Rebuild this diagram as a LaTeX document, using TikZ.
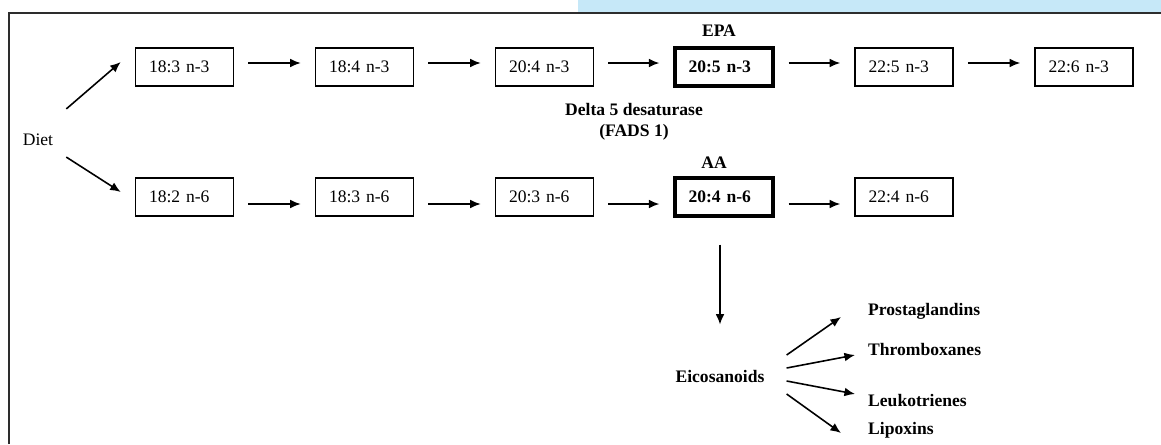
\documentclass[tikz,border=0pt]{standalone}
\usepackage{fontspec}
\setmainfont{Liberation Serif}
\usepackage{tikz}
\usetikzlibrary{positioning,calc,arrows.meta}
\definecolor{frameColor}{RGB}{45,45,45}
\definecolor{bannerColor}{RGB}{198,232,248}
\tikzstyle{diagram} = [x = .02cm, y = -.02cm, >={Latex[length=6pt,width=5pt]}]
\tikzstyle{acidBox} = [draw, line width = .9pt, minimum width = 1.96cm, minimum height = .76cm,
                       inner xsep = .27cm, inner ysep = 0pt, text width = 1.42cm, align = left]
\tikzstyle{keyBox} = [acidBox, line width = 1.8pt, font = \bfseries]
\tikzstyle{boldLabel} = [font = \bfseries]
\tikzstyle{frameLine} = [color = frameColor, line width = 1.2pt]
\tikzstyle{flowArrow} = [line width = .9pt, ->]
\tikzstyle{stepArrow} = [flowArrow, shorten < = .28cm, shorten > = .28cm]
\newcommand{\acid}[4]{\node [acidBox] (#1) at (#2, #3) {#4};}
\newcommand{\keyAcid}[4]{\node [keyBox] (#1) at (#2, #3) {#4};}

\begin{document}
\begin{tikzpicture}[diagram]
        \useasboundingbox (0,0) rectangle (1161,444);
        \fill [bannerColor] (578,0) rectangle (1161,12);
        \draw [frameLine] (9,444) -- (9,13) -- (1161,13);

        % n-3 row
        \acid{n3a}{184.5}{67}{18:3 n-3}
        \acid{n3b}{364.5}{67}{18:4 n-3}
        \acid{n3c}{544.5}{67}{20:4 n-3}
        \keyAcid{n3d}{724}{67}{20:5 n-3}
        \acid{n3e}{904}{67}{22:5 n-3}
        \acid{n3f}{1084}{67}{22:6 n-3}
        % n-6 row
        \acid{n6a}{184.5}{197}{18:2 n-6}
        \acid{n6b}{364.5}{197}{18:3 n-6}
        \acid{n6c}{544.5}{197}{20:3 n-6}
        \keyAcid{n6d}{724}{197}{20:4 n-6}
        \acid{n6e}{904}{197}{22:4 n-6}

        \node (diet) at (38,140) {Diet};
        \node [boldLabel] (epa) at (719,31) {EPA};
        \node [boldLabel, align = center] (fads) at (634,122) {Delta 5 desaturase\\(FADS 1)};
        \node [boldLabel] (aa) at (714,163) {AA};
        \node [boldLabel] (eico) at (720,376) {Eicosanoids};
        \node [boldLabel, anchor = west] (prost) at (862,311) {Prostaglandins};
        \node [boldLabel, anchor = west] (thromb) at (862,349) {Thromboxanes};
        \node [boldLabel, anchor = west] (leuko) at (862,401) {Leukotrienes};
        \node [boldLabel, anchor = west] (lipox) at (862,430) {Lipoxins};

        \draw [flowArrow] ($(diet.north east) + (7,-19)$) -- ($(n3a.west) + (-14,-5)$);
        \draw [flowArrow] ($(diet.south east) + (7,5)$) -- ($(n6a.west) + (-14,-5)$);
        \foreach \from/\to in {n3a/n3b, n3b/n3c, n3c/n3d, n3d/n3e, n3e/n3f}
          \draw [stepArrow] ([yshift = .08cm]\from.east) -- ([yshift = .08cm]\to.west);
        \foreach \from/\to in {n6a/n6b, n6b/n6c, n6c/n6d, n6d/n6e}
          \draw [stepArrow] ([yshift = -.14cm]\from.east) -- ([yshift = -.14cm]\to.west);

        \draw [flowArrow, shorten < = .54cm, shorten > = .78cm] (eico.north |- n6d.south) -- (eico.north);
        \foreach \product/\sy/\ex/\ey in {prost/.42cm/-.42cm/-.12cm, thromb/.16cm/-.14cm/-.12cm,
                                          leuko/-.1cm/-.14cm/.14cm, lipox/-.36cm/-.42cm/-.06cm}
          \draw [flowArrow] ([xshift = .32cm, yshift = \sy]eico.east) -- ([xshift = \ex, yshift = \ey]\product.west);
\end{tikzpicture}
\end{document}
